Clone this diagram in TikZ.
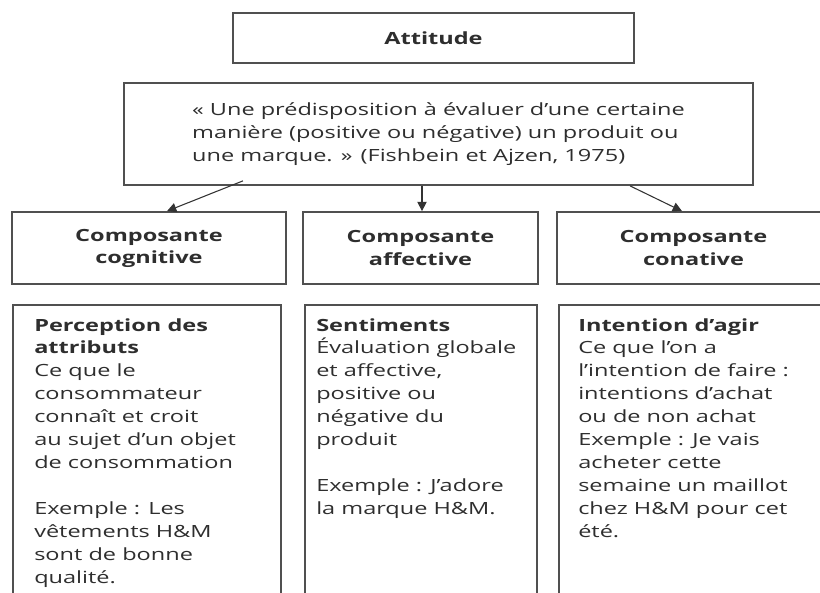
\documentclass[tikz,border=0pt]{standalone}
\usepackage{fontspec}
\setmainfont[FakeStretch=1.4]{Open Sans}
\usetikzlibrary{arrows.meta,calc}
\definecolor{linec}{HTML}{505050}
\definecolor{textc}{HTML}{2E2E2E}
\begin{document}
\begin{tikzpicture}[x=0.75pt,y=-0.75pt,
  txt/.style={font=\fontsize{12.6}{17.2}\selectfont},
  box/.style={draw=linec, line width=1.3pt, inner sep=0pt, text=textc, txt},
  head/.style={box, font=\bfseries\fontsize{12.6}{16.6}\selectfont, align=center},
  arr/.style={-{Triangle[length=7pt,width=7pt]}, draw=black!80, line width=0.8pt},
  body/.style={text=textc, align=left, anchor=north west, inner sep=0pt, txt},
  ]
\clip (0,0) rectangle (820,592);
\useasboundingbox (0,0) rectangle (820,592);

\node[head, minimum width=300.75pt, minimum height=37.5pt] (att) at (433.5,38) {Attitude};

\node[box, minimum width=471.75pt, minimum height=76.5pt, align=left] (quote) at (438.5,134)
  {« Une prédisposition à évaluer d’une certaine\\
   manière (positive ou négative) un produit ou\\
   une marque. » (Fishbein et Ajzen, 1975)};

\node[head, minimum width=205.5pt, minimum height=54pt] (cog) at (149,248) {Composante\\cognitive};
\node[head, minimum width=176.25pt, minimum height=54pt] (aff) at (420.5,248) {Composante\\affective};
\node[head, minimum width=204.75pt, minimum height=54pt] (con) at (693.5,248) {Composante\\conative};

\node[box, minimum width=201pt, minimum height=262.5pt] (b1) at (147,480) {};
\node[box, minimum width=174pt, minimum height=262.5pt] (b2) at (421,480) {};
\node[box, minimum width=210.75pt, minimum height=262.5pt] (b3) at (699.5,480) {};

\node[body] (t1) at (34,318) {\textbf{Perception des}\\
  \textbf{attributs}\\
  Ce que le\\
  consommateur\\
  connaît et croit\\
  au sujet d’un objet\\
  de consommation\\[17.2pt]
  Exemple : Les\\
  vêtements H\&M\\
  sont de bonne\\
  qualité.};

\node[body] (t2) at (316,318) {\textbf{Sentiments}\\
  Évaluation globale\\
  et affective,\\
  positive ou\\
  négative du\\
  produit\\[17.2pt]
  Exemple : J’adore\\
  la marque H\&M.};

\node[body] (t3) at (578,318) {\textbf{Intention d’agir}\\
  Ce que l’on a\\
  l’intention de faire :\\
  intentions d’achat\\
  ou de non achat\\
  Exemple : Je vais\\
  acheter cette\\
  semaine un maillot\\
  chez H\&M pour cet\\
  été.};

\draw[arr] ($(quote.south)+(-195.5,-5)$) -- ($(cog.north)+(18,0)$);
\draw[arr] ($(quote.south)+(-16.5,0)$) -- ($(aff.north)+(1.5,0)$);
\draw[arr] ($(quote.south)+(191.5,0)$) -- ($(con.north)+(-11.5,0)$);
\end{tikzpicture}
\end{document}
